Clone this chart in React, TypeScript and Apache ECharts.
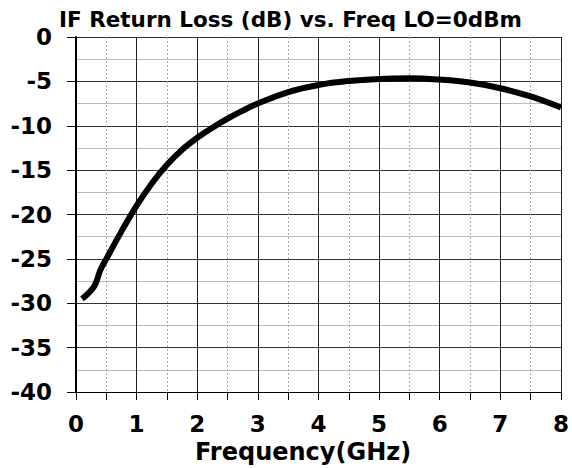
import React, { useEffect, useRef } from "react";
import * as echarts from "echarts";

const freqGHz = [0.1, 0.3, 0.4, 0.5, 0.75, 1.0, 1.25, 1.5, 1.75, 2.0, 2.25, 2.5, 2.75, 3.0, 3.5, 4.0, 4.5, 5.0, 5.5, 6.0, 6.5, 7.0, 7.5, 8.0];
const returnLossDb = [-29.5, -28.1, -26.3, -25.0, -21.9, -19.0, -16.5, -14.4, -12.7, -11.35, -10.22, -9.2, -8.3, -7.5, -6.2, -5.4, -4.95, -4.72, -4.65, -4.8, -5.13, -5.77, -6.7, -7.95];

const titleText = "IF Return Loss (dB) vs. Freq LO=0dBm";
const xAxisTitle = "Frequency(GHz)";

const FONT = "'DejaVu Sans', Verdana, sans-serif";

export default function App() {
  const ref = useRef<HTMLDivElement>(null);
  useEffect(() => {
    if (!ref.current) return;
    const chart = echarts.init(ref.current, undefined, { renderer: "svg" });
    const data = freqGHz.map((f, i) => [f, returnLossDb[i]]);
    chart.setOption({
      animation: false,
      backgroundColor: "#fff",
      grid: { left: 76, right: 9, top: 37, bottom: 76, containLabel: false },
      graphic: [
        {
          type: "text",
          left: 59,
          top: 8,
          style: { text: titleText, font: `bold 21.5px ${FONT}`, fill: "#000" },
        },
        {
          type: "text",
          left: 195,
          top: 440,
          style: { text: xAxisTitle, font: `bold 24px ${FONT}`, fill: "#000" },
        },
      ],
      xAxis: {
        type: "value",
        min: 0,
        max: 8,
        interval: 1,
        axisLine: { show: true, onZero: false, lineStyle: { color: "#000", width: 1 } },
        axisTick: { show: true, inside: false, length: 8, lineStyle: { color: "#000" } },
        minorTick: { show: true, splitNumber: 2, length: 8, lineStyle: { color: "#000" } },
        axisLabel: { margin: 20, color: "#000", fontFamily: FONT, fontWeight: "bold", fontSize: 23 },
        splitLine: { show: true, lineStyle: { color: "#222", width: 1 } },
        minorSplitLine: { show: true, lineStyle: { color: "#aaa", width: 1, type: [2, 2] } },
      },
      yAxis: {
        type: "value",
        min: -40,
        max: 0,
        interval: 5,
        axisLine: { show: true, onZero: false, lineStyle: { color: "#000", width: 2 } },
        axisTick: { show: true, inside: false, length: 9, lineStyle: { color: "#000" } },
        minorTick: { show: false, splitNumber: 2 },
        axisLabel: { margin: 24, color: "#000", fontFamily: FONT, fontWeight: "bold", fontSize: 23 },
        splitLine: { show: true, lineStyle: { color: "#333", width: 1 } },
        minorSplitLine: { show: true, lineStyle: { color: "#bbb", width: 1 } },
      },
      series: [
        {
          type: "line",
          data,
          smooth: 0.4,
          showSymbol: false,
          lineStyle: { color: "#000", width: 6 },
          clip: false,
        },
      ],
    });
    return () => chart.dispose();
  }, []);
  return (
    <div
      ref={ref}
      style={{ position: "fixed", left: 0, top: 0, width: 572, height: 468, background: "#fff" }}
    />
  );
}
